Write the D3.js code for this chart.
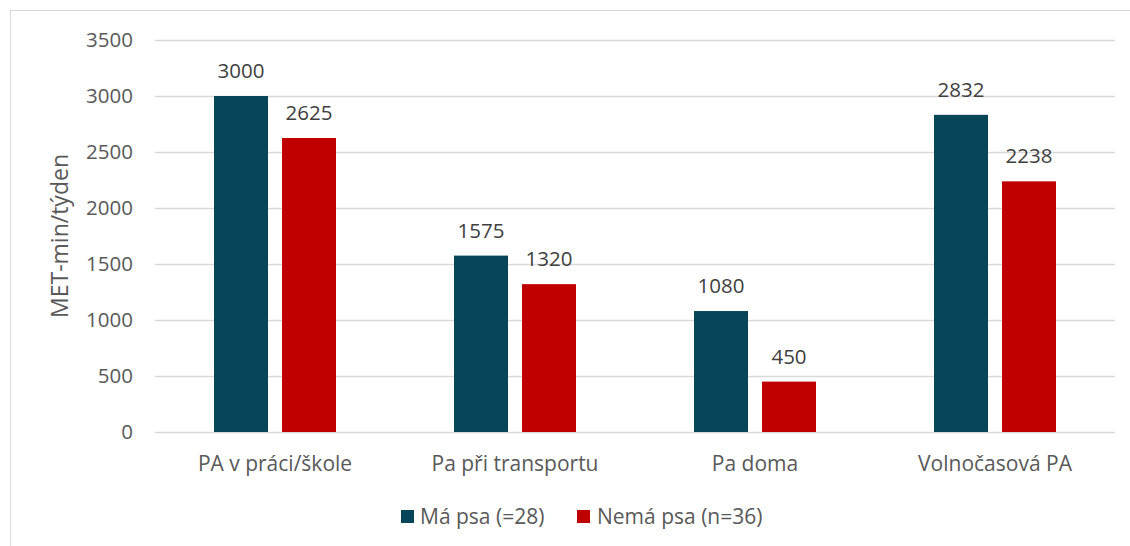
<!DOCTYPE html>
<html><head><meta charset="utf-8">
<script src="https://cdn.jsdelivr.net/npm/d3@7"></script>
<style>
body{margin:0;background:#fff;}
svg{display:block;font-family:"Open Sans","Noto Sans",sans-serif;}
</style></head>
<body><svg id="c" width="1130" height="546"></svg>
<script>
const categories = ["PA v práci/škole","Pa při transportu","Pa doma","Volnočasová PA"];
const seriesNames = ["Má psa (=28)","Nemá psa (n=36)"];
const maPsa = [3000,1575,1080,2832];
const nemaPsa = [2625,1320,450,2238];
const yTicks = [0,500,1000,1500,2000,2500,3000,3500];
const colors = ["#074659","#C00000"];
const textColor = "#595959";

const svg = d3.select("#c");
svg.append("rect").attr("x",10.5).attr("y",10.5).attr("width",1130).attr("height",546)
  .attr("fill","none").attr("stroke","#d9d9d9");

const pLeft=155,pRight=1115,pTop=40,pBottom=432;
const x = d3.scaleBand().domain(categories).range([pLeft,pRight]);
const sub = d3.scaleBand().domain([0,1]).range([0,122]).paddingInner(14/68);
const y = d3.scaleLinear().domain([0,3500]).range([pBottom,pTop]);

// gridlines
svg.append("g").selectAll("line").data(yTicks).join("line")
  .attr("x1",pLeft).attr("x2",pRight).attr("y1",d=>y(d)+0.5).attr("y2",d=>y(d)+0.5)
  .attr("stroke","#d9d9d9").attr("stroke-width",1.5);

// y axis labels
const yAxis = d3.axisLeft(y).tickValues(yTicks).tickSize(0).tickPadding(0).tickFormat(d3.format("d"));
const ya = svg.append("g").attr("transform",`translate(133,0)`).call(yAxis);
ya.select(".domain").remove();
ya.selectAll("text").attr("fill",textColor).style("font-size","20.5px").style("font-family","'Open Sans'");

// y title
svg.append("text").attr("transform","translate(68,236) rotate(-90)").attr("text-anchor","middle")
  .attr("fill",textColor).style("font-size","23px").text("MET-min/týden");

const series=[maPsa,nemaPsa];
series.forEach((vals,si)=>{
  const g=svg.append("g");
  g.selectAll("rect").data(vals).join("rect")
    .attr("x",(d,i)=>x(categories[i])+x.bandwidth()/2-61+sub(si))
    .attr("width",sub.bandwidth())
    .attr("y",d=>y(d)).attr("height",d=>pBottom-y(d))
    .attr("fill",colors[si]);
  g.selectAll("text").data(vals).join("text")
    .attr("x",(d,i)=>x(categories[i])+x.bandwidth()/2-61+sub(si)+sub.bandwidth()/2)
    .attr("y",d=>y(d)-18).attr("text-anchor","middle")
    .attr("fill","#404040").style("font-size","20.5px").text(d=>d);
});

// x axis labels
const xAxis = d3.axisBottom(x).tickSize(0).tickPadding(0);
const xa = svg.append("g").attr("transform",`translate(0,${pBottom})`).call(xAxis);
xa.select(".domain").remove();
xa.selectAll("text").attr("fill",textColor).style("font-size","21px").style("font-family","'Open Sans'")
  .attr("dy",0).attr("y",39);

// legend
const leg=[{x:401,tx:420},{x:577,tx:597}];
seriesNames.forEach((n,i)=>{
  svg.append("rect").attr("x",leg[i].x).attr("y",510).attr("width",13).attr("height",13).attr("fill",colors[i]);
  svg.append("text").attr("x",leg[i].tx).attr("y",524).attr("fill",textColor)
    .style("font-size","21px").text(n);
});
</script></body></html>
